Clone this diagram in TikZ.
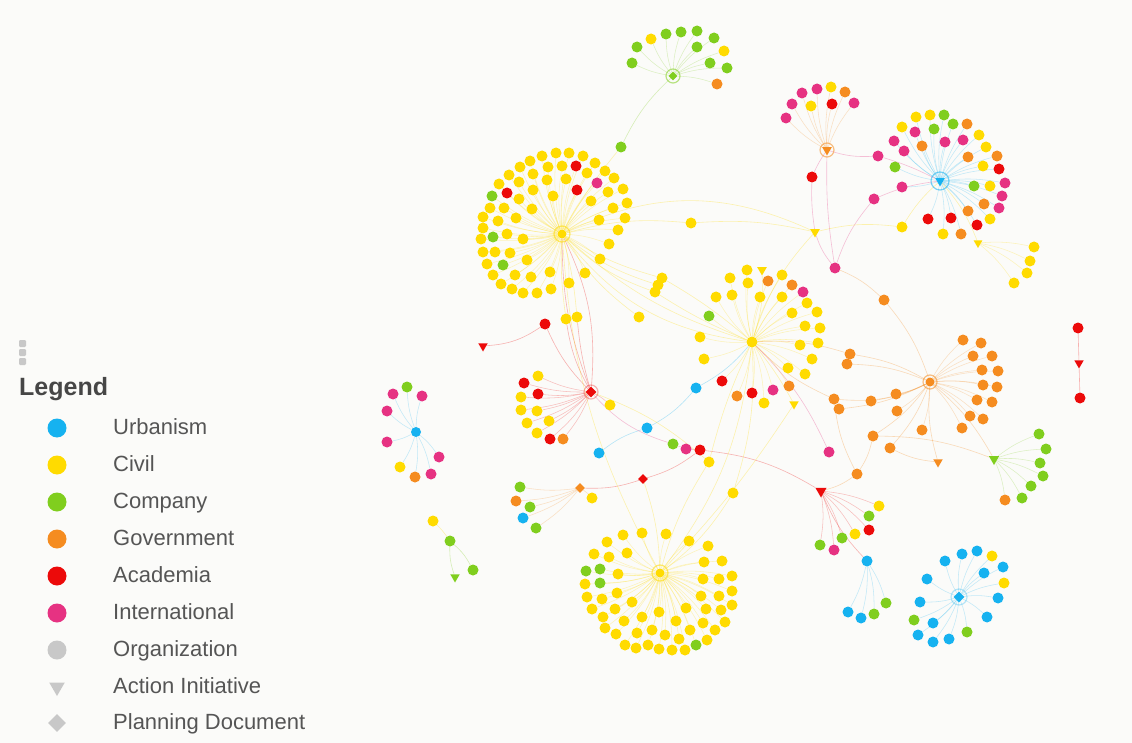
\documentclass[tikz,border=0pt]{standalone}
\usepackage{fontspec}
\setmainfont{Liberation Sans}
\usetikzlibrary{shapes.geometric}
\pgfdeclarelayer{bg}\pgfsetlayers{bg,main}
\definecolor{bgc}{RGB}{251,251,249}
\definecolor{cu}{RGB}{22,178,240}
\definecolor{cc}{RGB}{255,219,0}
\definecolor{cp}{RGB}{128,206,30}
\definecolor{cg}{RGB}{245,140,32}
\definecolor{ca}{RGB}{236,10,10}
\definecolor{ci}{RGB}{230,50,130}
\definecolor{co}{RGB}{200,200,200}
\definecolor{lg}{RGB}{70,70,70}
\definecolor{lt}{RGB}{85,85,85}
\tikzset{
  dot/.style={circle,inner sep=0pt,minimum size=11pt,draw=none},
  hubdot/.style={circle,inner sep=0pt,minimum size=9pt,draw=none},
  tri/.style={regular polygon,regular polygon sides=3,shape border rotate=180,inner sep=0pt,minimum size=11pt,draw=none},
  dia/.style={diamond,inner sep=0pt,minimum size=10pt,draw=none},
  edge/.style={line width=0.55pt,opacity=0.25},
  link/.style={line width=0.6pt,opacity=0.3},
  ring/.style={line width=1.2pt,opacity=0.55},
  legtext/.style={font=\fontsize{22}{24}\selectfont,text=lt,anchor=base west,inner sep=0pt},
  handle/.style={fill=co,rounded corners=1.2pt,draw=none}
}
\newcommand\mknodes[2]{%
  \foreach \x/\y/\cl [count=\i] in #2{%
    \node[dot,fill=\cl] (sat-#1-\i) at (\x,\y) {};
  }}
\newcommand\mkedges[4]{%
  \foreach \x/\y/\cl [count=\i] in #4{%
    \draw[edge,#3] (#2) to[bend left=8] (sat-#1-\i);
  }}
\def\listA{542/156/cc, 556/153/cc, 569/153/cc, 583/156/cc, 530/161/cc, 520/167/cc, 548/167/cc, 562/166/cc, 576/166/ca, 595/163/cc, 605/171/cc, 509/175/cc, 533/174/cc, 547/180/cc, 566/179/cc, 587/173/cc, 597/183/ci, 614/178/cc, 499/184/cc, 519/182/cc, 492/196/cp, 507/193/ca, 533/190/cc, 577/190/ca, 608/192/cc, 623/189/cc, 490/208/cc, 504/208/cc, 519/199/cc, 553/196/cc, 591/201/cc, 613/208/cc, 627/203/cc, 483/217/cc, 498/221/cc, 516/218/cc, 532/209/cc, 599/220/cc, 625/218/cc, 483/228/cc, 493/237/cp, 507/234/cc, 523/239/cc, 618/230/cc, 481/239/cc, 483/252/cc, 495/252/cc, 510/253/cc, 609/244/cc, 527/260/cc, 487/264/cc, 503/265/cp, 600/259/cc, 493/275/cc, 515/275/cc, 531/277/cc, 550/272/cc, 585/273/cc, 501/284/cc, 512/289/cc, 523/293/cc, 537/293/cc, 551/289/cc, 569/283/cc}
\def\listG{632/63/cp, 637/47/cp, 651/39/cc, 666/34/cp, 681/32/cp, 697/31/cp, 714/38/cp, 697/47/cp, 724/51/cc, 710/63/cp, 727/68/cp, 717/84/cg}
\def\listP{786/118/ci, 792/104/ci, 802/93/ci, 817/89/ci, 831/87/cc, 845/92/cg, 854/103/ci, 832/104/ca, 811/106/cc}
\def\listB{916/117/cc, 930/115/cc, 944/115/cp, 902/127/cc, 915/132/ci, 934/129/cp, 953/124/cp, 967/124/cg, 894/141/ci, 922/146/cg, 945/142/ci, 963/140/ci, 979/135/cc, 904/151/ci, 968/157/cg, 986/147/cc, 997/156/cg, 895/167/cp, 983/166/cc, 999/169/ca, 974/186/cp, 990/186/cc, 1005/183/ci, 1002/196/ci, 902/187/ci, 968/211/cg, 984/204/cg, 999/208/ci, 928/219/ca, 951/218/ca, 977/225/ca, 990/219/cc, 943/234/cc, 961/234/cg}
\def\listS{1034/247/cc, 1030/261/cc, 1027/273/cc, 1014/283/cc}
\def\listC{747/270/cc, 730/278/cc, 748/283/cc, 782/275/cc, 768/281/cg, 792/285/cg, 803/292/ci, 716/297/cc, 732/295/cc, 760/297/cc, 782/297/cc, 807/303/cc, 792/313/cc, 817/312/cc, 709/316/cp, 805/326/cc, 820/328/cc, 700/337/cc, 800/345/cc, 818/343/cc, 704/359/cc, 812/359/cc, 788/368/cc, 805/374/cc, 722/381/ca, 752/393/ca, 737/396/cg, 773/390/ci, 789/386/cg, 764/403/cc}
\def\listO{963/340/cg, 981/343/cg, 973/356/cg, 992/356/cg, 982/370/cg, 998/371/cg, 983/385/cg, 997/387/cg, 977/400/cg, 992/402/cg, 970/416/cg, 983/419/cg, 962/428/cg, 922/430/cg, 896/394/cg, 897/411/cg}
\def\listE{1039/434/cp, 1046/449/cp, 1040/463/cp, 1043/476/cp, 1031/486/cp, 1022/498/cp, 1005/500/cg}
\def\listR{538/376/cc, 524/383/ca, 521/397/cc, 538/394/ca, 521/410/cc, 537/411/cc, 527/423/cc, 549/421/cc, 537/433/cc, 550/439/ca, 563/439/cg, 610/405/cc}
\def\listU{407/387/cp, 393/394/ci, 422/396/ci, 387/411/ci, 387/442/ci, 439/457/ci, 400/467/cc, 415/477/cg, 431/474/ci}
\def\listY{623/535/cc, 642/533/cc, 666/534/cc, 689/541/cc, 708/546/cc, 607/542/cc, 594/554/cc, 609/557/cc, 627/553/cc, 722/561/cc, 704/562/cc, 586/571/cp, 600/569/cp, 618/574/cc, 732/576/cc, 719/579/cc, 703/579/cc, 585/584/cc, 600/583/cp, 732/591/cc, 719/596/cc, 701/596/cc, 617/593/cc, 587/597/cc, 602/599/cc, 632/602/cc, 732/605/cc, 721/610/cc, 706/609/cc, 686/608/cc, 659/612/cc, 592/609/cc, 615/609/cc, 603/617/cc, 642/617/cc, 725/622/cc, 715/630/cc, 703/623/cc, 676/621/cc, 624/621/cc, 605/628/cc, 690/630/cc, 665/635/cc, 652/630/cc, 637/633/cc, 616/634/cc, 707/640/cc, 696/645/cp, 625/645/cc, 648/645/cc, 679/639/cc, 636/648/cc, 659/649/cc, 672/650/cc, 685/650/cc}
\def\listD{520/487/cp, 516/501/cg, 530/507/cp, 523/518/cu, 536/528/cp, 592/498/cc}
\def\listT{879/506/cc, 869/516/cp, 869/530/ca, 855/534/cc, 842/538/cp, 820/545/cp, 834/550/ci}
\def\listV{848/612/cu, 861/618/cu, 874/614/cp, 886/603/cp}
\def\listW{945/561/cu, 962/554/cu, 977/551/cu, 992/556/cc, 927/579/cu, 984/573/cu, 1003/567/cu, 1004/583/cc, 920/602/cu, 998/598/cu, 914/620/cp, 933/623/cu, 987/617/cu, 918/635/cu, 933/642/cu, 949/639/cu, 967/632/cp}
\begin{document}
\begin{tikzpicture}[x=1pt,y=-1pt]
\useasboundingbox (0,0) rectangle (1132,743);

% ---------------- legend ----------------
\fill[handle] (19,340) rectangle (26,347);
\fill[handle] (19,349) rectangle (26,356);
\fill[handle] (19,358) rectangle (26,365);
\node[font=\fontsize{25}{28}\selectfont\bfseries,text=lg,anchor=base west,inner sep=0pt] (legtitle) at (19,395) {Legend};
\node[circle,fill=cu,minimum size=19pt,inner sep=0pt] (lm1) at (57,428) {};
\node[circle,fill=cc,minimum size=19pt,inner sep=0pt] (lm2) at (57,465) {};
\node[circle,fill=cp,minimum size=19pt,inner sep=0pt] (lm3) at (57,502) {};
\node[circle,fill=cg,minimum size=19pt,inner sep=0pt] (lm4) at (57,539) {};
\node[circle,fill=ca,minimum size=19pt,inner sep=0pt] (lm5) at (57,576) {};
\node[circle,fill=ci,minimum size=19pt,inner sep=0pt] (lm6) at (57,613) {};
\node[circle,fill=co,minimum size=19pt,inner sep=0pt] (lm7) at (57,650) {};
\node[regular polygon,regular polygon sides=3,shape border rotate=180,fill=co,minimum size=18pt,inner sep=0pt] (lm8) at (57,687) {};
\node[diamond,fill=co,minimum size=18pt,inner sep=0pt] (lm9) at (57,723) {};
\node[legtext] (lt1) at (113,434) {Urbanism};
\node[legtext] (lt2) at (113,471) {Civil};
\node[legtext] (lt3) at (113,508) {Company};
\node[legtext] (lt4) at (113,545) {Government};
\node[legtext] (lt5) at (113,582) {Academia};
\node[legtext] (lt6) at (113,619) {International};
\node[legtext] (lt7) at (113,656) {Organization};
\node[legtext] (lt8) at (113,693) {Action Initiative};
\node[legtext] (lt9) at (113,729) {Planning Document};

% ---------------- hubs ----------------
\node[hubdot,fill=cc] (HA) at (562,234) {};
\draw[ring,cc] (HA.center) circle (8pt);
\node[dia,fill=cp,minimum size=9pt] (G1) at (673,76) {};
\draw[ring,cp] (G1.center) circle (7pt);
\node[tri,fill=cg] (T1) at (827,150) {};
\draw[ring,cg] (T1.center) circle (7pt);
\node[tri,fill=cu] (B1) at (940,181) {};
\draw[ring,cu] (B1.center) circle (9pt);
\node[tri,fill=cc,minimum size=10pt] (T2) at (978,243) {};
\node[hubdot,fill=cc,minimum size=11pt] (Y2) at (752,342) {};
\node[hubdot,fill=cg] (O1) at (930,382) {};
\draw[ring,cg] (O1.center) circle (7pt);
\node[tri,fill=cp,minimum size=12pt] (T3) at (994,459) {};
\node[dia,fill=ca,minimum size=11pt] (R1) at (591,392) {};
\draw[ring,ca,opacity=.3] (R1.center) circle (7pt);
\node[dot,fill=cu,minimum size=10pt] (U1) at (416,432) {};
\node[hubdot,fill=cc] (Y3) at (660,573) {};
\draw[ring,cc] (Y3.center) circle (8pt);
\node[dia,fill=cg] (D2) at (580,488) {};
\node[dia,fill=ca] (D3) at (643,479) {};
\node[tri,fill=ca,minimum size=13pt] (T4) at (821,491) {};
\node[dot,fill=cu] (U2) at (867,561) {};
\node[dia,fill=cu,minimum size=11pt] (D4) at (959,597) {};
\draw[ring,cu,opacity=.3] (D4.center) circle (8pt);

% ---------------- cluster nodes ----------------
\mknodes{A}{\listA}
\mknodes{G}{\listG}
\mknodes{P}{\listP}
\mknodes{B}{\listB}
\mknodes{S}{\listS}
\mknodes{C}{\listC}
\mknodes{O}{\listO}
\mknodes{E}{\listE}
\mknodes{R}{\listR}
\mknodes{U}{\listU}
\mknodes{Y}{\listY}
\mknodes{D}{\listD}
\mknodes{T}{\listT}
\mknodes{V}{\listV}
\mknodes{W}{\listW}

% ---------------- bridge nodes ----------------
\node[dot,fill=cp] (g621) at (621,147) {};
\node[dot,fill=cc] (y691) at (691,223) {};
\node[tri,fill=cc] (t815) at (815,232) {};
\node[dot,fill=ca] (r812) at (812,177) {};
\node[dot,fill=ci] (p835) at (835,268) {};
\node[dot,fill=ci] (p878) at (878,156) {};
\node[dot,fill=ci] (p874) at (874,199) {};
\node[dot,fill=cc] (y902) at (902,227) {};
\node[dot,fill=cg] (o884) at (884,300) {};
\node[dot,fill=ca] (r545) at (545,324) {};
\node[tri,fill=ca] (t483) at (483,346) {};
\node[dot,fill=cc] (y566) at (566,319) {};
\node[dot,fill=cc] (y577) at (577,317) {};
\node[dot,fill=cc] (y639) at (639,317) {};
\node[dot,fill=cc] (y662) at (662,278) {};
\node[dot,fill=cc] (y658) at (658,285) {};
\node[dot,fill=cc] (y655) at (655,292) {};
\node[dot,fill=cu] (u696) at (696,388) {};
\node[dot,fill=cu] (u647) at (647,428) {};
\node[dot,fill=cu] (u599) at (599,453) {};
\node[dot,fill=cp] (g673) at (673,444) {};
\node[dot,fill=ci] (p686) at (686,449) {};
\node[dot,fill=ca] (r699) at (700,450) {};
\node[dot,fill=cc] (y709) at (709,462) {};
\node[dot,fill=cc] (y733) at (733,493) {};
\node[tri,fill=cc] (t762) at (762,270) {};
\node[tri,fill=cc] (t794) at (794,404) {};
\node[dot,fill=ci] (p828) at (829,452) {};
\node[dot,fill=cg] (o850) at (850,354) {};
\node[dot,fill=cg] (o866) at (847,364) {};
\node[dot,fill=cg] (o833) at (834,399) {};
\node[dot,fill=cg] (o854) at (839,409) {};
\node[dot,fill=cg] (o871) at (871,401) {};
\node[dot,fill=cg] (o873) at (873,436) {};
\node[dot,fill=cg] (o890) at (890,448) {};
\node[dot,fill=cg] (o856) at (857,474) {};
\node[tri,fill=cg] (t938) at (938,462) {};
\node[dot,fill=ca] (r1078) at (1078,328) {};
\node[tri,fill=ca] (t1079) at (1079,363) {};
\node[dot,fill=ca] (r1080) at (1080,398) {};
\node[dot,fill=cc] (y433) at (433,521) {};
\node[dot,fill=cp] (g450) at (450,541) {};
\node[tri,fill=cp] (t455) at (455,577) {};
\node[dot,fill=cp] (g473) at (473,570) {};

% ---------------- background + edges (one background layer) ----------------
\begin{pgfonlayer}{bg}
\fill[bgc] (0,0) rectangle (1132,743);
\mkedges{A}{HA}{cc}{\listA}
\mkedges{G}{G1}{cp}{\listG}
\mkedges{P}{T1}{cg}{\listP}
\mkedges{B}{B1}{cu}{\listB}
\mkedges{S}{T2}{cc}{\listS}
\mkedges{C}{Y2}{cc}{\listC}
\mkedges{O}{O1}{cg}{\listO}
\mkedges{E}{T3}{cp}{\listE}
\mkedges{R}{R1}{ca}{\listR}
\mkedges{U}{U1}{cu}{\listU}
\mkedges{Y}{Y3}{cc}{\listY}
\mkedges{D}{D2}{cg}{\listD}
\mkedges{T}{T4}{ca}{\listT}
\mkedges{V}{U2}{cu}{\listV}
\mkedges{W}{D4}{cu}{\listW}
\draw[link,cp] (G1) to[bend right=10] (g621);
\draw[link,cc] (g621) to[bend right=5] (HA);
\draw[link,cc] (HA) to[bend left=10] (y691);
\draw[link,cc] (y691) to[bend left=8] (t815);
\draw[link,cc] (HA) to[bend left=25] (t815);
\draw[link,cc] (HA) to[bend right=12] (Y2);
\draw[link,cc] (HA) to[bend right=22] (Y2);
\draw[link,cc] (HA) to[bend right=8] (y662);
\draw[link,cc] (HA) to[bend right=10] (y658);
\draw[link,cc] (HA) to[bend right=12] (y655);
\draw[link,cc] (y662) to[bend left=5] (Y2);
\draw[link,cc] (y655) to[bend right=5] (Y2);
\draw[link,cc] (HA) to[bend right=5] (y566);
\draw[link,cc] (HA) to[bend left=5] (y577);
\draw[link,cc] (HA) to[bend right=10] (y639);
\draw[link,ca] (R1) to[bend left=10] (HA);
\draw[link,ca] (R1) to[bend right=15] (HA);
\draw[link,ca] (R1) to[bend left=10] (r545);
\draw[link,ca] (r545) to[bend left=15] (t483);
\draw[link,ca] (R1) to[bend left=10] (y566);
\draw[link,ca] (R1) to[bend left=5] (y577);
\draw[link,ci] (T1) to[bend right=5] (r812);
\draw[link,ci] (r812) to[bend right=5] (t815);
\draw[link,ci] (T1) to[bend right=10] (p878);
\draw[link,ci] (p878) to[bend left=5] (B1);
\draw[link,ci] (t815) to[bend right=10] (p835);
\draw[link,ci] (T1) to[bend right=5] (p835);
\draw[link,ci] (p835) to[bend left=10] (p874);
\draw[link,ci] (p874) to[bend left=8] (B1);
\draw[link,cc] (B1) to[bend right=8] (y902);
\draw[link,cc] (y902) to[bend right=10] (t815);
\draw[link,cc] (B1) to[bend left=10] (T2);
\draw[link,cg] (p835) to[bend left=10] (o884);
\draw[link,cg] (o884) to[bend left=10] (O1);
\draw[link,cc] (Y2) to[bend left=12] (t815);
\draw[link,cc] (Y2) to[bend right=10] (t762);
\draw[link,cg] (Y2) to[bend left=10] (o850);
\draw[link,cg] (o850) to[bend left=10] (O1);
\draw[link,cg] (Y2) to[bend right=10] (o833);
\draw[link,cg] (o833) to[bend right=15] (O1);
\draw[link,cg] (O1) to[bend right=10] (o866);
\draw[link,cg] (O1) to[bend left=10] (o854);
\draw[link,cg] (O1) to[bend left=8] (o871);
\draw[link,cg] (O1) to[bend left=10] (o873);
\draw[link,cg] (O1) to[bend left=10] (o890);
\draw[link,cg] (O1) to[bend right=10] (t938);
\draw[link,cg] (o890) to[bend right=10] (t938);
\draw[link,cg] (O1) to[bend left=10] (T3);
\draw[link,cg] (o873) to[bend left=10] (T3);
\draw[link,cg] (o856) to[bend right=10] (o873);
\draw[link,cg] (o856) to[bend left=10] (T4);
\draw[link,cg] (o833) to[bend right=10] (o856);
\draw[link,cu] (Y2) to[bend left=10] (u696);
\draw[link,cu] (u696) to[bend left=10] (u647);
\draw[link,cu] (u647) to[bend right=10] (u599);
\draw[link,ci] (R1) to[bend right=15] (g673);
\draw[link,ci] (g673) -- (p686);
\draw[link,ci] (p686) -- (r699);
\draw[link,ca] (r699) to[bend left=12] (T4);
\draw[link,ca] (r699) to[bend left=10] (D3);
\draw[link,ca] (D3) to[bend left=10] (D2);
\draw[link,cc] (R1) to[bend left=10] (y709);
\draw[link,cc] (Y3) to[bend right=10] (y733);
\draw[link,cc] (y733) to[bend right=10] (Y2);
\draw[link,cc] (Y3) to[bend left=8] (y709);
\draw[link,cc] (y709) to[bend left=5] (Y2);
\draw[link,cc] (Y3) to[bend right=15] (Y2);
\draw[link,cc] (Y3) to[bend right=5] (t794);
\draw[link,cc] (t794) to[bend right=5] (Y2);
\draw[link,cc] (Y3) to[bend left=12] (HA);
\draw[link,cc] (Y3) to[bend right=8] (D3);
\draw[link,ci] (p828) to[bend right=10] (Y2);
\draw[link,ca] (T4) to[bend right=10] (U2);
\draw[link,ca] (r1078) -- (t1079);
\draw[link,ca] (t1079) -- (r1080);
\draw[link,cc] (y433) to[bend left=5] (g450);
\draw[link,cp] (g450) to[bend right=10] (t455);
\draw[link,cp] (g450) to[bend left=10] (g473);
\end{pgfonlayer}
\end{tikzpicture}
\end{document}
